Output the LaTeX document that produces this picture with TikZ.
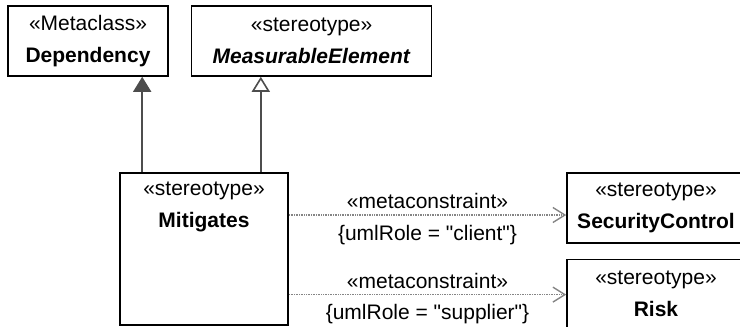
\documentclass[tikz,border=0pt]{standalone}
\usepackage{fontspec}
\setmainfont{Liberation Sans}[Ligatures=TeXOff]
\usepackage{xcolor}
\usepackage{tikz}
\usetikzlibrary{positioning,arrows.meta}
\definecolor{genline}{HTML}{4D4D4D}
\definecolor{metaline}{HTML}{858585}

\begin{document}
\begin{tikzpicture}[x=1pt,y=-1pt,>=Stealth,every node/.style={font=\fontsize{21}{32}\selectfont}]
\useasboundingbox (0,0) rectangle (740,327);
\tikzstyle{cls}=[draw,line width=1.6pt,fill=white,align=center,inner sep=0pt]
\tikzstyle{gen}=[draw=genline,line width=1.6pt]
\tikzstyle{meta}=[draw=metaline,line width=1.5pt,dash pattern=on 1pt off 0.7pt,-{Straight Barb[width=15pt,length=12pt,line width=1.4pt]}]
\node[cls,minimum width=160pt,minimum height=70pt] (dep) at (88,41) {«Metaclass»\\\textbf{Dependency}};
\node[cls,minimum width=240pt,minimum height=70pt,right=22pt of dep] (meas) {«stereotype»\\\textbf{\textit{MeasurableElement}}};
\node[cls,minimum width=168pt,minimum height=152pt] (mit) at (204,249) {};
\node[anchor=north,align=center,inner sep=0pt] (mithead) at ([yshift=-10pt]mit.north) {«stereotype»\\\textbf{Mitigates}};
\node[cls,minimum width=178pt,minimum height=70pt] (sec) at (656,208) {«stereotype»\\\textbf{SecurityControl}};
\node[cls,minimum width=178pt,minimum height=68pt,below=15pt of sec] (risk) {«stereotype»\\\textbf{Risk}};
% generalizations
\draw[gen,-{Triangle[width=18pt,length=15pt]}] ([xshift=23pt]mit.north west) -- ([xshift=23pt]mit.north west |- dep.south);
\draw[gen,-{Triangle[open,width=18pt,length=15pt,fill=white]}] ([xshift=-28pt]mit.north east) -- ([xshift=-28pt]mit.north east |- meas.south);
% metaconstraints
\draw[meta] ([yshift=-7pt]mit.east |- sec.west) -- ([yshift=-7pt]sec.west) node[midway,above=2pt] (mc1) {«metaconstraint»} node[midway,below=6pt] (role1) {\{umlRole = "client"\}};
\draw[meta] ([yshift=-1pt]mit.east |- risk.west) -- ([yshift=-1pt]risk.west) node[midway,above=2pt] (mc2) {«metaconstraint»} node[midway,below=6pt] (role2) {\{umlRole = "supplier"\}};
\end{tikzpicture}
\end{document}
